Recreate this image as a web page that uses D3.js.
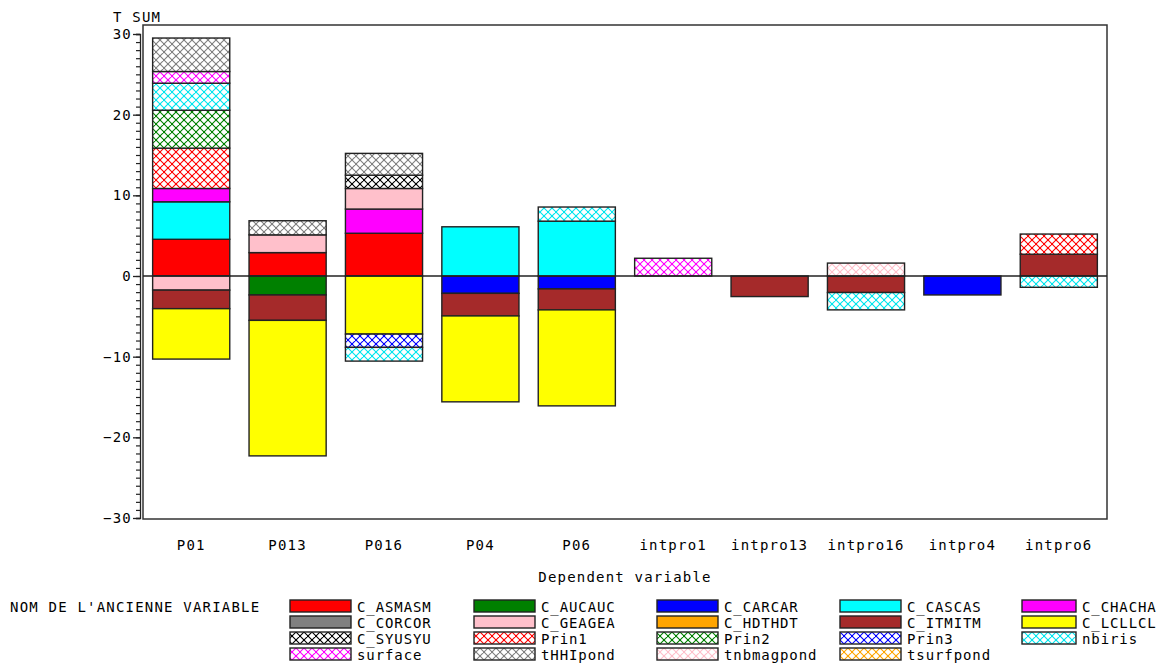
<!DOCTYPE html>
<html>
<head>
<meta charset="utf-8">
<script src="https://cdn.jsdelivr.net/npm/d3@7"></script>
<style>
  html, body { margin: 0; padding: 0; background: #fff; }
  svg { display: block; }
  text { font-family: "DejaVu Sans Mono", monospace; font-size: 14px; letter-spacing: 1.2px; fill: #000; }
  text.leg { letter-spacing: 0.9px; }
</style>
</head>
<body>
<script>
const categories = ["P01", "P013", "P016", "P04", "P06", "intpro1", "intpro13", "intpro16", "intpro4", "intpro6"];

const seriesNames = ["C_ASMASM", "C_AUCAUC", "C_CARCAR", "C_CASCAS", "C_CHACHA",
  "C_CORCOR", "C_GEAGEA", "C_HDTHDT", "C_ITMITM", "C_LCLLCL",
  "C_SYUSYU", "Prin1", "Prin2", "Prin3", "nbiris",
  "surface", "tHHIpond", "tnbmagpond", "tsurfpond"];

// values per series, in category order
const C_ASMASM   = [4.55, 2.9, 5.3, 0, 0, 0, 0, 0, 0, 0];
const C_AUCAUC   = [0, -2.35, 0, 0, 0, 0, 0, 0, 0, 0];
const C_CARCAR   = [0, 0, 0, -2.15, -1.6, 0, 0, 0, -2.35, 0];
const C_CASCAS   = [4.65, 0, 0, 6.1, 6.8, 0, 0, 0, 0, 0];
const C_CHACHA   = [1.65, 0, 3.0, 0, 0, 0, 0, 0, 0, 0];
const C_CORCOR   = [0, 0, 0, 0, 0, 0, 0, 0, 0, 0];
const C_GEAGEA   = [-1.75, 2.2, 2.55, 0, 0, 0, 0, 0, 0, 0];
const C_HDTHDT   = [0, 0, 0, 0, 0, 0, 0, 0, 0, 0];
const C_ITMITM   = [-2.3, -3.15, 0, -2.8, -2.6, 0, -2.55, -2.05, 0, 2.7];
const C_LCLLCL   = [-6.25, -16.8, -7.2, -10.65, -11.9, 0, 0, 0, 0, 0];
const C_SYUSYU   = [0, 0, 1.65, 0, 0, 0, 0, 0, 0, 0];
const Prin1      = [5.0, 0, 0, 0, 0, 0, 0, 0, 0, 2.5];
const Prin2      = [4.7, 0, 0, 0, 0, 0, 0, 0, 0, 0];
const Prin3      = [0, 0, -1.65, 0, 0, 0, 0, 0, 0, 0];
const nbiris     = [3.35, 0, -1.7, 0, 1.75, 0, 0, -2.15, 0, -1.4];
const surface    = [1.45, 0, 0, 0, 0, 2.2, 0, 0, 0, 0];
const tHHIpond   = [4.15, 1.75, 2.7, 0, 0, 0, 0, 0, 0, 0];
const tnbmagpond = [0, 0, 0, 0, 0, 0, 0, 1.6, 0, 0];
const tsurfpond  = [0, 0, 0, 0, 0, 0, 0, 0, 0, 0];

const yTicks = [-30, -20, -10, 0, 10, 20, 30];

const seriesValues = [C_ASMASM, C_AUCAUC, C_CARCAR, C_CASCAS, C_CHACHA, C_CORCOR, C_GEAGEA,
  C_HDTHDT, C_ITMITM, C_LCLLCL, C_SYUSYU, Prin1, Prin2, Prin3, nbiris, surface, tHHIpond,
  tnbmagpond, tsurfpond];

// styles
const styles = {
  C_ASMASM: {c: "#ff0000"}, C_AUCAUC: {c: "#008000"}, C_CARCAR: {c: "#0000ff"},
  C_CASCAS: {c: "#00ffff"}, C_CHACHA: {c: "#ff00ff"}, C_CORCOR: {c: "#808080"},
  C_GEAGEA: {c: "#ffc0cb"}, C_HDTHDT: {c: "#ffa500"}, C_ITMITM: {c: "#a52a2a"},
  C_LCLLCL: {c: "#ffff00"},
  C_SYUSYU: {c: "#000000", h: true}, Prin1: {c: "#ff0000", h: true}, Prin2: {c: "#008000", h: true},
  Prin3: {c: "#0000ff", h: true}, nbiris: {c: "#00e5ee", h: true}, surface: {c: "#ff00ff", h: true},
  tHHIpond: {c: "#808080", h: true}, tnbmagpond: {c: "#ffc0cb", h: true}, tsurfpond: {c: "#ffa500", h: true}
};

const W = 1165, H = 666;
const svg = d3.select("body").append("svg").attr("width", W).attr("height", H);
const defs = svg.append("defs");

seriesNames.forEach((s, i) => {
  const st = styles[s];
  if (!st.h) return;
  const p = defs.append("pattern").attr("id", "hp" + i)
    .attr("patternUnits", "userSpaceOnUse").attr("width", 8).attr("height", 8);
  p.append("rect").attr("width", 8).attr("height", 8).attr("fill", "#fff");
  p.append("path").attr("d", "M0,0L8,8M8,0L0,8M-1,7L1,9M7,-1L9,1M-1,1L1,-1M7,9L9,7")
    .attr("stroke", st.c).attr("stroke-width", 1.1).attr("fill", "none");
  p.append("rect").attr("x", 3).attr("y", 3).attr("width", 2).attr("height", 2).attr("fill", st.c);
  p.append("rect").attr("x", -1).attr("y", -1).attr("width", 2).attr("height", 2).attr("fill", st.c);
  p.append("rect").attr("x", 7).attr("y", 7).attr("width", 2).attr("height", 2).attr("fill", st.c);
  p.append("rect").attr("x", 7).attr("y", -1).attr("width", 2).attr("height", 2).attr("fill", st.c);
  p.append("rect").attr("x", -1).attr("y", 7).attr("width", 2).attr("height", 2).attr("fill", st.c);
});
function fillOf(s) {
  const i = seriesNames.indexOf(s);
  return styles[s].h ? "url(#hp" + i + ")" : styles[s].c;
}

const frame = {l: 143, r: 1107, t: 25, b: 519};
const x = d3.scaleBand().domain(categories).range([frame.l, frame.r]).paddingInner(0.2).paddingOuter(0.1);
const y = d3.scaleLinear().domain([-30, 30]).range([518, 34]);

// table
const table = categories.map((c, ci) => {
  const row = {cat: c};
  seriesNames.forEach((s, si) => row[s] = seriesValues[si][ci]);
  return row;
});
const stacked = d3.stack().keys(seriesNames).offset(d3.stackOffsetDiverging)(table);

// frame
svg.append("rect").attr("x", frame.l).attr("y", frame.t)
  .attr("width", frame.r - frame.l).attr("height", frame.b - frame.t)
  .attr("fill", "none").attr("stroke", "#333").attr("stroke-width", 1.5);

// bars
const g = svg.append("g");
stacked.forEach(layer => {
  layer.forEach(d => {
    if (Math.abs(d[1] - d[0]) < 1e-9) return;
    g.append("rect")
      .attr("x", x(d.data.cat))
      .attr("width", x.bandwidth())
      .attr("y", y(Math.max(d[0], d[1])))
      .attr("height", Math.abs(y(d[0]) - y(d[1])))
      .attr("fill", fillOf(layer.key))
      .attr("stroke", "#222").attr("stroke-width", 1.4);
  });
});

// zero line
svg.append("line").attr("x1", frame.l).attr("x2", frame.r)
  .attr("y1", y(0)).attr("y2", y(0)).attr("stroke", "#222").attr("stroke-width", 1.3);

// y axis
const axisX = 140;
const ax = svg.append("g").attr("transform", `translate(${axisX},0)`)
  .call(d3.axisLeft(y).tickValues(d3.range(-30, 31, 1)).tickSize(4).tickFormat(""));
ax.select(".domain").attr("stroke", "#222").attr("stroke-width", 1.3);
ax.selectAll(".tick line").attr("stroke", "#222").attr("stroke-width", 1.2);
const axM = svg.append("g").attr("transform", `translate(${axisX},0)`)
  .call(d3.axisLeft(y).tickValues(yTicks).tickSize(7).tickPadding(3).tickFormat(d3.format("d")));
axM.select(".domain").remove();
axM.selectAll(".tick line").attr("stroke", "#222").attr("stroke-width", 1.3);
axM.selectAll(".tick text").attr("font-family", null).attr("font-size", null)
  .style("font-family", "DejaVu Sans Mono").style("font-size", "14px").attr("x", -8);
svg.append("text").attr("x", 113).attr("y", 22).text("T SUM");

// x labels
categories.forEach(c => {
  svg.append("text").attr("x", x(c) + x.bandwidth() / 2).attr("y", 550)
    .attr("text-anchor", "middle").text(c);
});
svg.append("text").attr("x", 625).attr("y", 582).attr("text-anchor", "middle").text("Dependent variable");

// legend
svg.append("text").attr("x", 10).attr("y", 612).text("NOM DE L'ANCIENNE VARIABLE");
const colX = [290, 474, 657, 840, 1022];
const colW = [61, 61, 61, 61, 54];
seriesNames.forEach((s, i) => {
  const col = i % 5, row = Math.floor(i / 5);
  const yy = 600 + row * 16;
  svg.append("rect").attr("x", colX[col]).attr("y", yy).attr("width", colW[col]).attr("height", 12)
    .attr("fill", fillOf(s)).attr("stroke", "#222").attr("stroke-width", 1.4);
  svg.append("text").attr("class", "leg").attr("x", colX[col] + colW[col] + 6).attr("y", yy + 12).text(s);
});
</script>
</body>
</html>
